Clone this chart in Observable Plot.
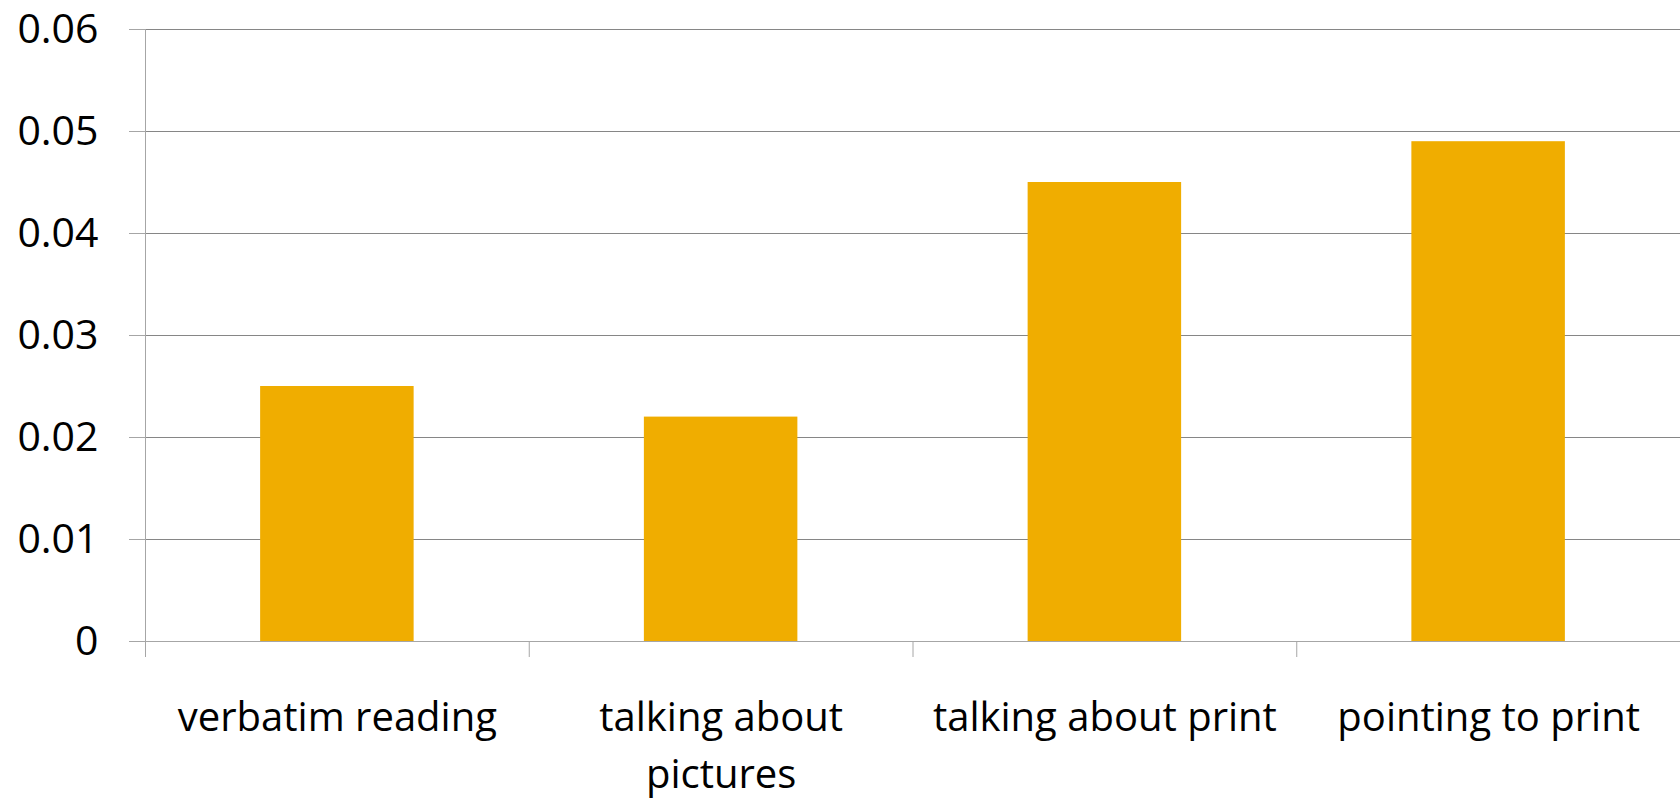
<!DOCTYPE html>
<html>
<head>
<meta charset="utf-8">
<script src="https://cdn.jsdelivr.net/npm/d3@7"></script>
<script src="https://cdn.jsdelivr.net/npm/@observablehq/plot@0.6"></script>
<style>
  html, body { margin: 0; padding: 0; background: #fff; }
</style>
</head>
<body>
<div id="chart"></div>
<script>
const categories = ["verbatim reading", "talking about pictures", "talking about print", "pointing to print"];
const categoryLabels = ["verbatim reading", "talking about\npictures", "talking about print", "pointing to print"];
const values = [0.025, 0.022, 0.045, 0.049];
const yTicks = [0, 0.01, 0.02, 0.03, 0.04, 0.05, 0.06];
const yTickLabels = ["0", "0.01", "0.02", "0.03", "0.04", "0.05", "0.06"];

const data = categories.map((c, i) => ({category: c, label: categoryLabels[i], value: values[i], index: i}));
const boundaries = d3.range(categories.length); // band edges (left of each category)

const chart = Plot.plot({
  width: 1680,
  height: 800,
  marginTop: 29,
  marginBottom: 159,
  marginLeft: 145,
  marginRight: 0,
  style: {fontFamily: "'Open Sans', Lato, sans-serif", fontSize: "40px", color: "#000", background: "#fff"},
  x: {type: "linear", domain: [0, categories.length]},
  y: {domain: [0, 0.06]},
  marks: [
    Plot.gridY(yTicks, {stroke: "#868686", strokeOpacity: 1}),
    Plot.axisY(yTicks, {tickSize: 16, tickPadding: 31, tickFormat: (d, i) => yTickLabels[i], stroke: "#a6a6a6", fill: "#000", label: null, fontSize: 41}),
    Plot.rectY(data, {x1: d => d.index + 0.3, x2: d => d.index + 0.7, y: "value", fill: "#f0ad00"}),
    Plot.ruleX([0], {y1: 0, y2: 0.06, stroke: "#a6a6a6"}),
    Plot.ruleY([0], {stroke: "#a6a6a6"}),
    Plot.axisX(boundaries, {tickSize: 16, tickFormat: () => "", stroke: "#a6a6a6", label: null}),
    Plot.text(data, {x: d => d.index + 0.5, y: () => 0, text: "label", lineAnchor: "top", dy: 49, lineHeight: 1.43, fontSize: 40, fill: "#000"})
  ]
});
document.getElementById("chart").appendChild(chart);
</script>
</body>
</html>
